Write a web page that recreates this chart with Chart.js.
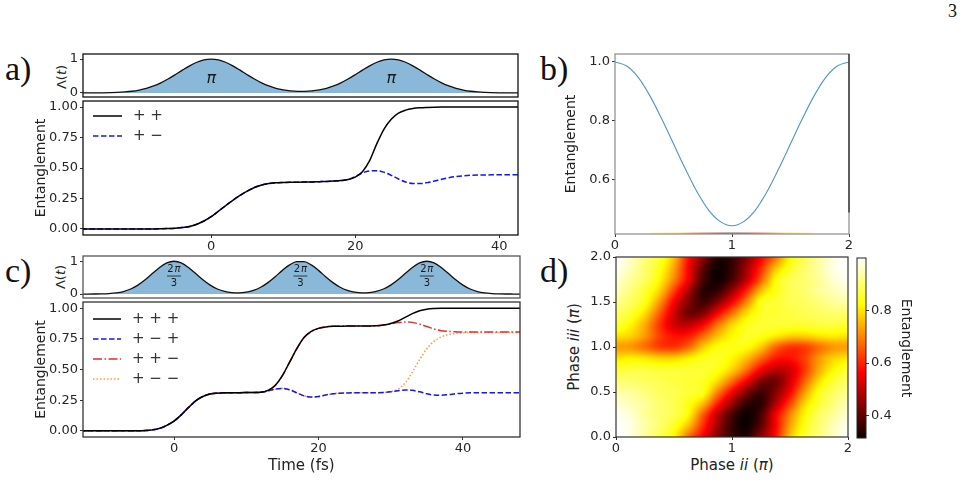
<!DOCTYPE html>
<html><head><meta charset="utf-8">
<script src="https://cdn.jsdelivr.net/npm/chart.js@4/dist/chart.umd.min.js"></script>
<style>
html,body{margin:0;padding:0;background:#fff;}
body{width:974px;height:499px;overflow:hidden;position:relative;font-family:'DejaVu Sans',sans-serif;}
canvas{position:absolute;}
.plab{position:absolute;font-family:'Liberation Serif',serif;font-size:34px;line-height:1;color:#111;}
.rot{position:absolute;transform:translate(-50%,-50%) rotate(-90deg);white-space:nowrap;color:#222;line-height:1;}
.hz{position:absolute;transform:translate(-50%,-50%);white-space:nowrap;color:#222;line-height:1;}
</style></head><body>
<div class="plab" style="left:948px;top:2px;font-size:18px;">3</div>
<div class="plab" style="left:5px;top:52px;">a)</div>
<div class="plab" style="left:540px;top:52px;">b)</div>
<div class="plab" style="left:5px;top:254px;">c)</div>
<div class="plab" style="left:540px;top:254px;">d)</div>
<div class="rot" style="left:61px;top:77px;font-size:13px;">Λ(<i>t</i>)</div>
<div class="rot" style="left:60px;top:277px;font-size:13px;">Λ(<i>t</i>)</div>
<div class="rot" style="left:574px;top:347px;font-size:15px;">Phase <i>iii</i> (<i>π</i>)</div>
<div class="hz" style="left:732px;top:465px;font-size:15px;">Phase <i>ii</i> (<i>π</i>)</div>
<script>
// ---------------- DATA ----------------
const tA = [-18,-17,-16,-15,-14,-13,-12,-11,-10,-9,-8,-7,-6,-5,-4,-3,-2,-1,0,1,2,3,4,5,6,7,8,9,10,11,12,13,14,15,16,17,18,19,20,21,22,23,24,25,26,27,28,29,30,31,32,33,34,35,36,37,38,39,40,41,42,43];
const pulseA = [0.000,0.001,0.002,0.004,0.008,0.015,0.029,0.050,0.085,0.135,0.206,0.298,0.411,0.539,0.674,0.801,0.906,0.976,1.000,0.976,0.906,0.801,0.674,0.539,0.411,0.298,0.206,0.137,0.089,0.058,0.044,0.044,0.058,0.089,0.137,0.206,0.298,0.411,0.539,0.674,0.801,0.906,0.976,1.000,0.976,0.906,0.801,0.674,0.539,0.411,0.298,0.206,0.135,0.085,0.050,0.029,0.015,0.008,0.004,0.002,0.001,0.000];
const entPP = [0,0,0,0,0,0,0,0,0,0,0,0.001,0.003,0.006,0.011,0.020,0.038,0.065,0.100,0.145,0.190,0.235,0.275,0.310,0.340,0.360,0.372,0.378,0.381,0.383,0.384,0.385,0.386,0.388,0.390,0.393,0.397,0.405,0.425,0.470,0.560,0.700,0.820,0.900,0.950,0.975,0.988,0.994,0.997,0.999,1,1,1,1,1,1,1,1,1,1,1,1];
const entPM = [0,0,0,0,0,0,0,0,0,0,0,0.001,0.003,0.006,0.011,0.020,0.038,0.065,0.100,0.145,0.190,0.235,0.275,0.310,0.340,0.360,0.372,0.378,0.381,0.383,0.384,0.385,0.386,0.388,0.390,0.393,0.397,0.405,0.430,0.460,0.475,0.478,0.465,0.440,0.410,0.385,0.372,0.372,0.380,0.393,0.408,0.420,0.430,0.436,0.440,0.442,0.443,0.444,0.445,0.445,0.445,0.445];

const tC = [-13,-12,-11,-10,-9,-8,-7,-6,-5,-4,-3,-2,-1,0,1,2,3,4,5,6,7,8,9,10,11,12,13,14,15,16,17,18,19,20,21,22,23,24,25,26,27,28,29,30,31,32,33,34,35,36,37,38,39,40,41,42,43,44,45,46,47,48];
const pulseC = [0.000,0.000,0.002,0.006,0.015,0.036,0.078,0.154,0.272,0.435,0.626,0.812,0.949,1.000,0.949,0.812,0.626,0.435,0.272,0.154,0.081,0.045,0.038,0.060,0.113,0.207,0.349,0.529,0.722,0.889,0.987,0.987,0.889,0.722,0.529,0.349,0.207,0.113,0.060,0.038,0.045,0.081,0.154,0.272,0.435,0.626,0.812,0.949,1.000,0.949,0.812,0.626,0.435,0.272,0.154,0.078,0.036,0.015,0.006,0.002,0.001,0.000];
const entPPP = [0,0,0,0,0,0,0,0,0,0.002,0.008,0.020,0.045,0.080,0.130,0.190,0.245,0.280,0.300,0.307,0.310,0.310,0.311,0.312,0.313,0.315,0.330,0.370,0.450,0.560,0.670,0.760,0.810,0.835,0.847,0.852,0.853,0.854,0.854,0.855,0.855,0.856,0.862,0.875,0.895,0.925,0.955,0.978,0.991,0.997,1,1,1,1,1,1,1,1,1,1,1,1];
const entPMP = [0,0,0,0,0,0,0,0,0,0.002,0.008,0.020,0.045,0.080,0.130,0.190,0.245,0.280,0.300,0.307,0.310,0.310,0.311,0.312,0.313,0.315,0.325,0.340,0.345,0.335,0.310,0.285,0.275,0.280,0.292,0.302,0.307,0.309,0.310,0.310,0.310,0.311,0.312,0.318,0.327,0.333,0.330,0.318,0.302,0.292,0.290,0.295,0.302,0.307,0.310,0.310,0.310,0.310,0.310,0.310,0.310,0.310];
const entPPM = [0,0,0,0,0,0,0,0,0,0.002,0.008,0.020,0.045,0.080,0.130,0.190,0.245,0.280,0.300,0.307,0.310,0.310,0.311,0.312,0.313,0.315,0.330,0.370,0.450,0.560,0.670,0.760,0.810,0.835,0.847,0.852,0.853,0.854,0.854,0.855,0.855,0.856,0.862,0.872,0.882,0.887,0.884,0.870,0.850,0.830,0.816,0.810,0.807,0.805,0.805,0.805,0.805,0.805,0.805,0.805,0.805,0.805];
const entPMM = [0,0,0,0,0,0,0,0,0,0.002,0.008,0.020,0.045,0.080,0.130,0.190,0.245,0.280,0.300,0.307,0.310,0.310,0.311,0.312,0.313,0.315,0.325,0.340,0.345,0.335,0.310,0.285,0.275,0.280,0.292,0.302,0.307,0.309,0.310,0.310,0.310,0.311,0.312,0.320,0.340,0.390,0.480,0.580,0.670,0.730,0.765,0.785,0.795,0.800,0.802,0.802,0.802,0.802,0.802,0.802,0.802,0.802];

const bPhase = [0,0.1,0.2,0.3,0.4,0.5,0.6,0.7,0.8,0.9,1.0,1.1,1.2,1.3,1.4,1.5,1.6,1.7,1.8,1.9,2.0];
const bEnt = [1.000,0.986,0.947,0.884,0.806,0.722,0.638,0.560,0.497,0.458,0.444,0.458,0.497,0.560,0.638,0.722,0.806,0.884,0.947,0.986,1.000];
// thin coloured strip along the bottom of panel b (phase, entanglement colour value)
const bStripX = [0.3,0.55,0.75,0.9,1.0,1.1,1.25,1.45,1.7];
const bStripV = [0.92,0.78,0.6,0.42,0.33,0.42,0.6,0.78,0.92];

const heatX = [0,0.125,0.25,0.375,0.5,0.625,0.75,0.875,1,1.125,1.25,1.375,1.5,1.625,1.75,1.875,2];
const heatY = [0,0.125,0.25,0.375,0.5,0.625,0.75,0.875,1,1.125,1.25,1.375,1.5,1.625,1.75,1.875,2];
const heatZ = [
 [1.00,0.98,0.93,0.88,0.82,0.68,0.56,0.44,0.36,0.34,0.45,0.58,0.76,0.86,0.91,0.96,1.00],
 [1.00,0.98,0.94,0.90,0.85,0.76,0.61,0.47,0.36,0.32,0.40,0.56,0.73,0.84,0.90,0.95,0.99],
 [0.99,0.97,0.93,0.90,0.88,0.82,0.66,0.50,0.38,0.32,0.38,0.55,0.70,0.82,0.89,0.93,0.97],
 [0.97,0.95,0.93,0.90,0.88,0.84,0.76,0.60,0.46,0.36,0.35,0.48,0.63,0.78,0.86,0.91,0.95],
 [0.94,0.93,0.91,0.89,0.88,0.86,0.84,0.70,0.56,0.44,0.37,0.44,0.56,0.72,0.84,0.89,0.92],
 [0.90,0.90,0.89,0.88,0.87,0.86,0.85,0.79,0.68,0.56,0.44,0.42,0.52,0.66,0.79,0.86,0.89],
 [0.86,0.87,0.87,0.86,0.86,0.86,0.86,0.84,0.78,0.68,0.56,0.50,0.52,0.62,0.74,0.82,0.86],
 [0.80,0.81,0.80,0.78,0.78,0.81,0.84,0.85,0.82,0.76,0.67,0.59,0.58,0.63,0.72,0.78,0.80],
 [0.73,0.72,0.68,0.63,0.62,0.67,0.77,0.83,0.84,0.83,0.77,0.67,0.62,0.63,0.68,0.72,0.73],
 [0.80,0.78,0.72,0.63,0.58,0.59,0.67,0.76,0.82,0.85,0.84,0.81,0.78,0.78,0.80,0.81,0.80],
 [0.86,0.82,0.74,0.62,0.52,0.50,0.56,0.68,0.78,0.84,0.86,0.86,0.86,0.86,0.87,0.87,0.86],
 [0.89,0.86,0.79,0.66,0.52,0.42,0.44,0.56,0.68,0.79,0.85,0.86,0.87,0.88,0.89,0.90,0.90],
 [0.92,0.89,0.84,0.72,0.56,0.44,0.37,0.44,0.56,0.70,0.84,0.86,0.88,0.89,0.91,0.93,0.94],
 [0.95,0.91,0.86,0.78,0.63,0.48,0.35,0.36,0.46,0.60,0.76,0.84,0.88,0.90,0.93,0.95,0.97],
 [0.97,0.93,0.89,0.82,0.70,0.55,0.38,0.32,0.38,0.50,0.66,0.82,0.88,0.90,0.93,0.97,0.99],
 [0.99,0.95,0.90,0.84,0.73,0.56,0.40,0.32,0.36,0.47,0.61,0.76,0.85,0.90,0.94,0.98,1.00],
 [1.00,0.96,0.91,0.86,0.76,0.58,0.45,0.34,0.36,0.44,0.56,0.68,0.82,0.88,0.93,0.98,1.00]
];
const cbMin = 0.315, cbMax = 1.0;
const cbTicks = [0.4,0.6,0.8];

// ---------------- HELPERS ----------------
const TF = {family:'DejaVu Sans', size:13};
const TC = '#262626';
const pts = (xs, ys) => xs.map((x,i)=>({x:x, y:ys[i]}));

const framePlugin = {id:'frame', afterDraw(chart, args, o){
  const a = chart.chartArea, c = chart.ctx;
  c.save(); c.strokeStyle = o.color || '#111'; c.lineWidth = o.width || 1.2;
  c.strokeRect(a.left, a.top, a.right-a.left, a.bottom-a.top);
  if (o.rightColor){ c.strokeStyle = o.rightColor; c.beginPath(); c.moveTo(a.right, a.top); c.lineTo(a.right, a.top + (a.bottom-a.top)*o.rightFrac); c.stroke(); }
  c.restore();
}};
const legendPlugin = {id:'inleg', afterDatasetsDraw(chart, args, o){
  if(!o || !o.show) return;
  const a = chart.chartArea, c = chart.ctx;
  chart.data.datasets.forEach((ds,i)=>{
    const y = a.top + o.y + i*o.dy, x0 = a.left + o.x;
    c.save(); c.strokeStyle = ds.borderColor; c.lineWidth = ds.borderWidth;
    c.setLineDash(ds.borderDash || []); c.beginPath(); c.moveTo(x0,y); c.lineTo(x0+o.len,y); c.stroke();
    c.setLineDash([]); c.fillStyle = '#333'; c.font = o.font; c.textBaseline = 'middle';
    c.fillText(ds.label, x0+o.len+o.gap, y); c.restore();
  });
}};
const pulseLabelPlugin = {id:'plab', afterDatasetsDraw(chart, args, o){
  if(!o || !o.items) return;
  const c = chart.ctx, xs = chart.scales.x, ys = chart.scales.y;
  o.items.forEach(it=>{
    const px = xs.getPixelForValue(it.x), py = ys.getPixelForValue(it.y);
    c.save(); c.fillStyle = '#1a1a1a'; c.textAlign = 'center'; c.textBaseline = 'middle';
    if (it.frac){
      c.font = '10px "DejaVu Sans"';
      c.fillText('2', px-3.5, py-7); c.font = 'italic 10px "DejaVu Sans"'; c.fillText('π', px+3.5, py-7);
      c.strokeStyle = '#1a1a1a'; c.lineWidth = 0.8; c.beginPath(); c.moveTo(px-7, py); c.lineTo(px+7, py); c.stroke();
      c.font = '10px "DejaVu Sans"'; c.fillText('3', px, py+7);
    } else {
      c.font = 'italic 16px "DejaVu Sans"'; c.fillText(it.text, px, py);
    }
    c.restore();
  });
}};
function hot(t){
  t = Math.max(0, Math.min(1, t));
  const r = t < 0.365079 ? 0.0416 + (1-0.0416)*t/0.365079 : 1;
  const g = t < 0.365079 ? 0 : (t < 0.746032 ? (t-0.365079)/(0.746032-0.365079) : 1);
  const b = t < 0.746032 ? 0 : (t-0.746032)/(1-0.746032);
  return [Math.round(r*255), Math.round(g*255), Math.round(b*255)];
}
function cr(p0,p1,p2,p3,t){ return 0.5*((2*p1)+(-p0+p2)*t+(2*p0-5*p1+4*p2-p3)*t*t+(-p0+3*p1-3*p2+p3)*t*t*t); }
function sampleHeat(xv, yv){
  const nx = heatX.length, ny = heatY.length;
  const fx = (xv-heatX[0])/(heatX[1]-heatX[0]), fy = (yv-heatY[0])/(heatY[1]-heatY[0]);
  const ix = Math.max(0, Math.min(nx-2, Math.floor(fx))), iy = Math.max(0, Math.min(ny-2, Math.floor(fy)));
  const tx = fx-ix, ty = fy-iy;
  const cl = (v,n)=>Math.max(0, Math.min(n-1, v));
  const rows = [];
  for (let m=-1; m<=2; m++){
    const r = heatZ[cl(iy+m, ny)];
    rows.push(cr(r[cl(ix-1,nx)], r[cl(ix,nx)], r[cl(ix+1,nx)], r[cl(ix+2,nx)], tx));
  }
  return cr(rows[0], rows[1], rows[2], rows[3], ty);
}
const heatPlugin = {id:'heat', beforeDatasetsDraw(chart){
  const c = chart.ctx, a = chart.chartArea, xs = chart.scales.x, ys = chart.scales.y;
  const w = Math.round(a.right-a.left), h = Math.round(a.bottom-a.top);
  const off = document.createElement('canvas'); off.width = w; off.height = h;
  const oc = off.getContext('2d'); const img = oc.createImageData(w, h);
  for (let j=0; j<h; j++){
    const yv = ys.getValueForPixel(a.top+j+0.5);
    for (let i=0; i<w; i++){
      const xv = xs.getValueForPixel(a.left+i+0.5);
      const col = hot((sampleHeat(xv, yv)-cbMin)/(cbMax-cbMin));
      const k = (j*w+i)*4; img.data[k]=col[0]; img.data[k+1]=col[1]; img.data[k+2]=col[2]; img.data[k+3]=255;
    }
  }
  oc.putImageData(img, 0, 0); c.drawImage(off, a.left, a.top);
}};
const cbarPlugin = {id:'cbar', beforeDatasetsDraw(chart){
  const c = chart.ctx, a = chart.chartArea, ys = chart.scales.y;
  for (let j=Math.floor(a.top); j<a.bottom; j++){
    const v = ys.getValueForPixel(j+0.5);
    const col = hot((v-cbMin)/(cbMax-cbMin));
    c.fillStyle = 'rgb('+col.join(',')+')'; c.fillRect(a.left, j, a.right-a.left, 1);
  }
}};
const stripPlugin = {id:'strip', afterDatasetsDraw(chart){
  const c = chart.ctx, a = chart.chartArea, xs = chart.scales.x;
  const x0 = xs.getPixelForValue(bStripX[0]), x1 = xs.getPixelForValue(bStripX[bStripX.length-1]);
  const g = c.createLinearGradient(x0, 0, x1, 0);
  bStripX.forEach((p,i)=>{ const col = hot((bStripV[i]-cbMin)/(cbMax-cbMin)); g.addColorStop((xs.getPixelForValue(p)-x0)/(x1-x0), 'rgb('+col.join(',')+')'); });
  c.save(); c.fillStyle = g; c.globalAlpha = 0.6; c.fillRect(x0, a.bottom-1.5, x1-x0, 1.5); c.restore();
}};

function yAxis(min, max, ticks, fmt, extra){
  return Object.assign({
    type:'linear', min:min, max:max, position:'left',
    afterBuildTicks: s => { s.ticks = ticks.map(v=>({value:v})); },
    ticks:{font:TF, color:TC, padding:2, callback: v => fmt(v)},
    grid:{display:true, drawOnChartArea:false, drawTicks:true, tickLength:3, color:'#333'},
    border:{display:false}
  }, extra || {});
}
function xAxis(min, max, ticks, fmt, extra){
  return Object.assign({
    type:'linear', min:min, max:max, position:'bottom',
    afterBuildTicks: s => { s.ticks = ticks.map(v=>({value:v})); },
    ticks:{font:TF, color:TC, padding:1, maxRotation:0, autoSkip:false, callback: v => fmt(v)},
    grid:{display:true, drawOnChartArea:false, drawTicks:true, tickLength:3, color:'#333'},
    border:{display:false}
  }, extra || {});
}
function mk(rect, pad, cfg, yPos, xShown){
  const cv = document.createElement('canvas');
  cv.width = rect.w + pad.l + pad.r; cv.height = rect.h + pad.t + pad.b;
  cv.style.left = (rect.l - pad.l) + 'px'; cv.style.top = (rect.t - pad.t) + 'px';
  document.body.appendChild(cv);
  const o = cfg.options;
  o.responsive = false; o.animation = false; o.devicePixelRatio = 1;
  o.layout = {padding:{left: yPos==='left'?0:pad.l, right: yPos==='right'?0:pad.r, top: pad.t, bottom: xShown?0:pad.b}};
  o.scales.y.afterFit = s => { s.width = (yPos==='left'?pad.l:pad.r); };
  if (xShown) o.scales.x.afterFit = s => { s.height = pad.b; };
  o.plugins = Object.assign({legend:{display:false}, tooltip:{enabled:false}}, o.plugins || {});
  cfg.plugins = (cfg.plugins || []).concat([framePlugin]);
  return new Chart(cv, cfg);
}
const f0 = v => String(v);
const f1 = v => v.toFixed(1);
const f2 = v => v.toFixed(2);
const pulseDs = (xs, ys) => ({data: pts(xs, ys), borderColor:'#111', borderWidth:1.3, pointRadius:0, fill:'origin', backgroundColor:'rgba(31,119,180,0.52)', cubicInterpolationMode:'monotone'});
const lineDs = (label, xs, ys, color, dash, w) => ({label:label, data: pts(xs, ys), borderColor:color, borderWidth:w||1.5, borderDash:dash, pointRadius:0, fill:false, cubicInterpolationMode:'monotone'});

// ---------------- PANEL a ----------------
mk({l:83,t:54,w:435,h:43}, {l:30,r:12,t:14,b:14}, {
  type:'line', data:{datasets:[pulseDs(tA, pulseA)]},
  options:{scales:{x:{type:'linear', min:-17.8, max:42.6, display:false}, y: yAxis(-0.12, 1.15, [0,1], f0)},
    plugins:{frame:{color:'#111', width:1.3}, plab:{items:[{x:0, y:0.42, text:'π'},{x:25, y:0.42, text:'π'}]}}},
  plugins:[pulseLabelPlugin]
}, 'left', false);

mk({l:83,t:101,w:435,h:134}, {l:50,r:14,t:14,b:22}, {
  type:'line', data:{datasets:[lineDs('+ +', tA, entPP, '#000000', []), lineDs('+ −', tA, entPM, '#1515ee', [5.5,2.5])]},
  options:{scales:{x: xAxis(-17.8, 42.6, [0,20,40], f0), y: yAxis(-0.05, 1.05, [0,0.25,0.5,0.75,1], f2, {title:{display:true, text:'Entanglement', font:{family:'DejaVu Sans', size:14}, color:'#222', padding:0}})},
    plugins:{frame:{color:'#111', width:1.3}, inleg:{show:true, x:10, y:15, dy:20, len:29, gap:11, font:'15px "DejaVu Sans"'}}},
  plugins:[legendPlugin]
}, 'left', true);

// ---------------- PANEL b ----------------
mk({l:615,t:54,w:234,h:180}, {l:52,r:14,t:14,b:22}, {
  type:'line', data:{datasets:[lineDs('b', bPhase, bEnt, '#4f95c6', [], 1.1)]},
  options:{scales:{x: xAxis(0, 2, [0,1,2], f0), y: yAxis(0.416, 1.027, [0.6,0.8,1.0], f1, {title:{display:true, text:'Entanglement', font:{family:'DejaVu Sans', size:14}, color:'#222', padding:0}})},
    plugins:{frame:{color:'#8a8a8a', width:1.2, rightColor:'#222', rightFrac:0.88}}},
  plugins:[stripPlugin]
}, 'left', true);

// ---------------- PANEL c ----------------
mk({l:83,t:256,w:437,h:42}, {l:30,r:12,t:14,b:14}, {
  type:'line', data:{datasets:[pulseDs(tC, pulseC)]},
  options:{scales:{x:{type:'linear', min:-12.6, max:47.9, display:false}, y: yAxis(-0.12, 1.16, [0,1], f0)},
    plugins:{frame:{color:'#555', width:1.3}, plab:{items:[{x:0, y:0.55, frac:true},{x:17.5, y:0.55, frac:true},{x:35, y:0.55, frac:true}]}}},
  plugins:[pulseLabelPlugin]
}, 'left', false);

mk({l:83,t:302,w:437,h:135}, {l:50,r:14,t:14,b:38}, {
  type:'line', data:{datasets:[
    lineDs('+ + +', tC, entPPP, '#000000', []),
    lineDs('+ − +', tC, entPMP, '#1515ee', [5.5,2.5]),
    lineDs('+ + −', tC, entPPM, '#e0312b', [9,2.5,1.5,2.5]),
    lineDs('+ − −', tC, entPMM, '#ff9a3c', [1.5,2])]},
  options:{scales:{x: xAxis(-12.6, 47.9, [0,20,40], f0, {title:{display:true, text:'Time (fs)', font:{family:'DejaVu Sans', size:15}, color:'#222', padding:0}}),
      y: yAxis(-0.05, 1.05, [0,0.25,0.5,0.75,1], f2, {title:{display:true, text:'Entanglement', font:{family:'DejaVu Sans', size:14}, color:'#222', padding:0}})},
    plugins:{frame:{color:'#333', width:1.3}, inleg:{show:true, x:10, y:17, dy:20, len:28, gap:11, font:'15px "DejaVu Sans"'}}},
  plugins:[legendPlugin]
}, 'left', true);

// ---------------- PANEL d ----------------
mk({l:616,t:257,w:232,h:180}, {l:44,r:14,t:14,b:22}, {
  type:'scatter', data:{datasets:[{data:[], pointRadius:0}]},
  options:{scales:{x: xAxis(0, 2, [0,1,2], f0), y: yAxis(0, 2, [0,0.5,1,1.5,2], f1)},
    plugins:{frame:{color:'#333', width:1.2}}},
  plugins:[heatPlugin]
}, 'left', true);

mk({l:857,t:258,w:9,h:180}, {l:4,r:48,t:14,b:14}, {
  type:'scatter', data:{datasets:[{data:[], pointRadius:0}]},
  options:{scales:{x:{type:'linear', min:0, max:1, display:false},
      y: yAxis(cbMin, cbMax, cbTicks, f1, {position:'right', title:{display:true, text:'Entanglement', font:{family:'DejaVu Sans', size:14}, color:'#222', padding:0}})},
    plugins:{frame:{color:'#222', width:1}}},
  plugins:[cbarPlugin]
}, 'right', false);
</script>
</body></html>
